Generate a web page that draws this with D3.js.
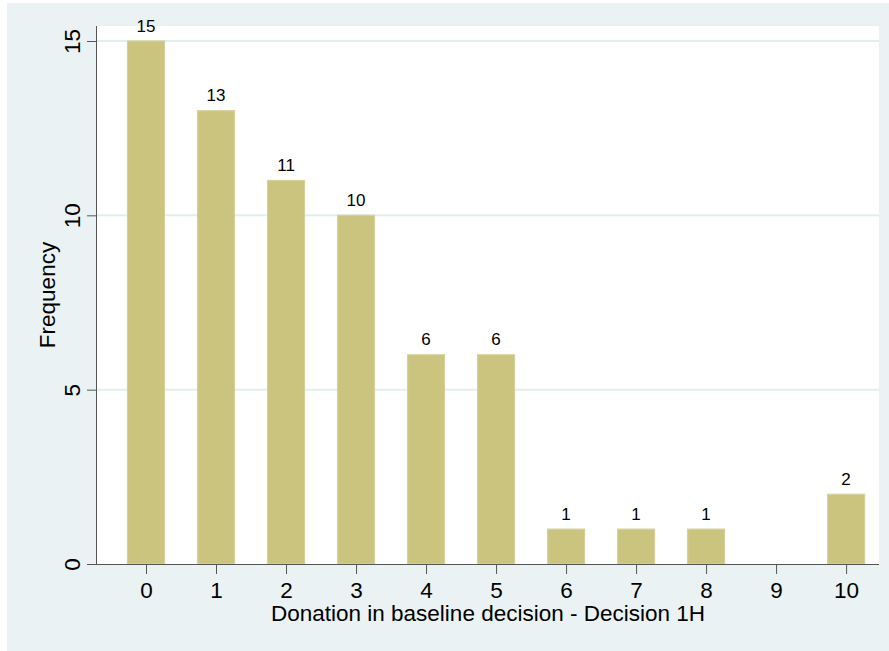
<!DOCTYPE html>
<html>
<head>
<meta charset="utf-8">
<script src="https://d3js.org/d3.v7.min.js"></script>
<style>
  body { margin: 0; background: #fff; }
  text { font-family: "Liberation Sans", Arial, Helvetica, sans-serif; fill: #000; }
</style>
</head>
<body>
<div id="chart"></div>
<script>
var width = 889, height = 651;

// data
let donation = [0, 1, 2, 3, 4, 5, 6, 7, 8, 9, 10];
let frequency = [15, 13, 11, 10, 6, 6, 1, 1, 1, 0, 2];
let yTicks = [0, 5, 10, 15];

let plot = { left: 97, right: 879, top: 26, bottom: 564 };

let svg = d3.select('#chart')
  .append('svg')
  .attr('width', width)
  .attr('height', height);

// graph region background
svg.append('rect')
  .attr('x', 7).attr('y', 3)
  .attr('width', width - 7).attr('height', height - 3)
  .attr('fill', '#eaf2f3');

// plot region
svg.append('rect')
  .attr('x', plot.left).attr('y', plot.top)
  .attr('width', plot.right - plot.left).attr('height', plot.bottom - plot.top)
  .attr('fill', '#fff');

let xScale = d3.scaleLinear()
  .domain([-0.7, 10.47])
  .range([plot.left, plot.right]);

let yScale = d3.scaleLinear()
  .domain([0, 15])
  .range([plot.bottom, 41]);

// gridlines
svg.append('g')
  .selectAll('line')
  .data(yTicks.filter(d => d > 0))
  .enter()
  .append('line')
  .attr('x1', plot.left).attr('x2', plot.right)
  .attr('y1', d => yScale(d)).attr('y2', d => yScale(d))
  .attr('stroke', '#e4eef0')
  .attr('stroke-width', 2);

let barw = 37;
let rows = donation.map((d, i) => ({ x: d, n: frequency[i] }));

svg.append('g')
  .selectAll('rect')
  .data(rows.filter(d => d.n > 0))
  .enter()
  .append('rect')
  .attr('x', d => xScale(d.x) - barw / 2)
  .attr('y', d => yScale(d.n))
  .attr('width', barw)
  .attr('height', d => yScale(0) - yScale(d.n))
  .attr('fill', '#cbc47f')
  .attr('stroke', '#d6d09d')
  .attr('stroke-width', 1.2);

// bar labels
svg.append('g')
  .selectAll('text')
  .data(rows.filter(d => d.n > 0))
  .enter()
  .append('text')
  .attr('x', d => xScale(d.x))
  .attr('y', d => yScale(d.n) - 9.5)
  .attr('text-anchor', 'middle')
  .style('font-size', '17px')
  .text(d => d.n);

// axes
let xAxis = d3.axisBottom(xScale).tickValues(donation).tickSize(10).tickPadding(8).tickSizeOuter(0);
let yAxis = d3.axisLeft(yScale).tickValues(yTicks).tickSize(10).tickSizeOuter(0);

let gx = svg.append('g')
  .attr('transform', `translate(0, ${plot.bottom})`)
  .call(xAxis);
gx.select('.domain').attr('d', `M${plot.left},0.5H${plot.right}`);
gx.selectAll('line').attr('stroke', '#555');
gx.select('.domain').attr('stroke', '#555');
gx.selectAll('text').style('font-size', '22.5px').attr('dy', '0.72em');

let gy = svg.append('g')
  .attr('transform', `translate(${plot.left}, 0)`)
  .call(yAxis);
gy.select('.domain').attr('d', `M-0.5,${plot.top}V${plot.bottom}`);
gy.selectAll('line').attr('stroke', '#555');
gy.select('.domain').attr('stroke', '#555');
gy.selectAll('.tick text')
  .attr('x', 0).attr('y', 0).attr('dy', null)
  .attr('transform', 'translate(-17, 0) rotate(-90)')
  .attr('text-anchor', 'middle')
  .style('font-size', '22.5px');

// axis titles
svg.append('text')
  .attr('x', (plot.left + plot.right) / 2)
  .attr('y', 621)
  .attr('text-anchor', 'middle')
  .style('font-size', '22.5px')
  .text('Donation in baseline decision - Decision 1H');

svg.append('text')
  .attr('transform', `translate(55, ${(plot.top + plot.bottom) / 2}) rotate(-90)`)
  .attr('text-anchor', 'middle')
  .style('font-size', '22.5px')
  .text('Frequency');
</script>
</body>
</html>
